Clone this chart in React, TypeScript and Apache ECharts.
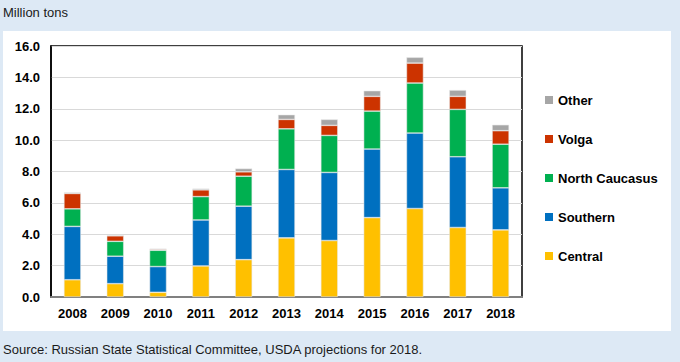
import React, { useEffect, useRef } from "react";
import * as echarts from "echarts";

const years = ["2008", "2009", "2010", "2011", "2012", "2013", "2014", "2015", "2016", "2017", "2018"];
const central = [1.1, 0.85, 0.3, 1.98, 2.38, 3.77, 3.6, 5.06, 5.64, 4.43, 4.28];
const southern = [3.4, 1.75, 1.64, 2.93, 3.41, 4.36, 4.34, 4.37, 4.81, 4.51, 2.68];
const northCaucasus = [1.12, 0.95, 1.04, 1.49, 1.91, 2.59, 2.36, 2.42, 3.19, 3.02, 2.78];
const volga = [0.98, 0.35, 0.06, 0.43, 0.28, 0.6, 0.64, 0.94, 1.27, 0.83, 0.86];
const other = [0.06, 0.05, 0.04, 0.08, 0.21, 0.3, 0.38, 0.36, 0.37, 0.4, 0.38];

const seriesNames = ["Central", "Southern", "North Caucasus", "Volga", "Other"];
const seriesColors = ["#ffc000", "#0070c0", "#00b050", "#cc3300", "#a6a6a6"];
const seriesData = [central, southern, northCaucasus, volga, other];

const titleText = "Million tons";
const sourceText = "Source: Russian State Statistical Committee, USDA projections for 2018.";

const FONT = "'Liberation Sans', Arial, sans-serif";

export default function App() {
  const ref = useRef<HTMLDivElement>(null);
  useEffect(() => {
    if (!ref.current) return;
    const chart = echarts.init(ref.current, undefined, { renderer: "svg" });
    chart.setOption({
      animation: false,
      backgroundColor: "#dde9f5",
      textStyle: { fontFamily: FONT },
      graphic: [
        {
          type: "rect",
          z: -100,
          shape: { x: 3, y: 31, width: 668, height: 300 },
          style: { fill: "#ffffff" },
          silent: true,
        },
        {
          type: "text",
          x: 3,
          y: 12,
          style: { text: titleText, font: `13px ${FONT}`, fill: "#1a1a1a", textVerticalAlign: "middle", verticalAlign: "middle" },
        },
        {
          type: "text",
          x: 3,
          y: 349,
          style: { text: sourceText, font: `13px ${FONT}`, fill: "#1a1a1a", textVerticalAlign: "middle", verticalAlign: "middle" },
        },
      ],
      grid: {
        left: 51,
        right: 158,
        top: 46,
        bottom: 65,
        show: true,
        borderColor: "#000000",
        borderWidth: 1.5,
        backgroundColor: "transparent",
      },
      legend: {
        orient: "vertical",
        left: 545,
        top: 93,
        padding: 0,
        itemWidth: 8,
        itemHeight: 8,
        itemGap: 25,
        icon: "rect",
        itemStyle: { borderWidth: 0 },
        data: ["Other", "Volga", "North Caucasus", "Southern", "Central"],
        textStyle: { fontFamily: FONT, fontSize: 13, fontWeight: "bold", color: "#000", lineHeight: 14 },
        selectedMode: false,
      },
      xAxis: {
        type: "category",
        data: years,
        axisLine: { show: true, lineStyle: { color: "#808080", width: 2 } },
        axisTick: { show: false },
        axisLabel: { fontFamily: FONT, fontSize: 13, fontWeight: "bold", color: "#000", margin: 10 },
      },
      yAxis: {
        type: "value",
        min: 0,
        max: 16,
        interval: 2,
        axisLine: { show: true, lineStyle: { color: "#000", width: 1.5 } },
        axisTick: { show: false },
        splitLine: { lineStyle: { color: "#d9d9d9", width: 1 } },
        axisLabel: {
          fontFamily: FONT,
          fontSize: 13,
          fontWeight: "bold",
          color: "#000",
          margin: 11,
          formatter: (v: number) => v.toFixed(1),
        },
      },
      series: seriesNames.map((name, i) => ({
        name,
        type: "bar",
        stack: "total",
        barWidth: 17,
        data: seriesData[i],
        itemStyle: { color: seriesColors[i], borderColor: "rgba(230,230,230,0.9)", borderWidth: 0.6 },
      })),
    });
    return () => chart.dispose();
  }, []);
  return <div ref={ref} style={{ position: "fixed", left: 0, top: 0, width: 680, height: 362 }} />;
}
